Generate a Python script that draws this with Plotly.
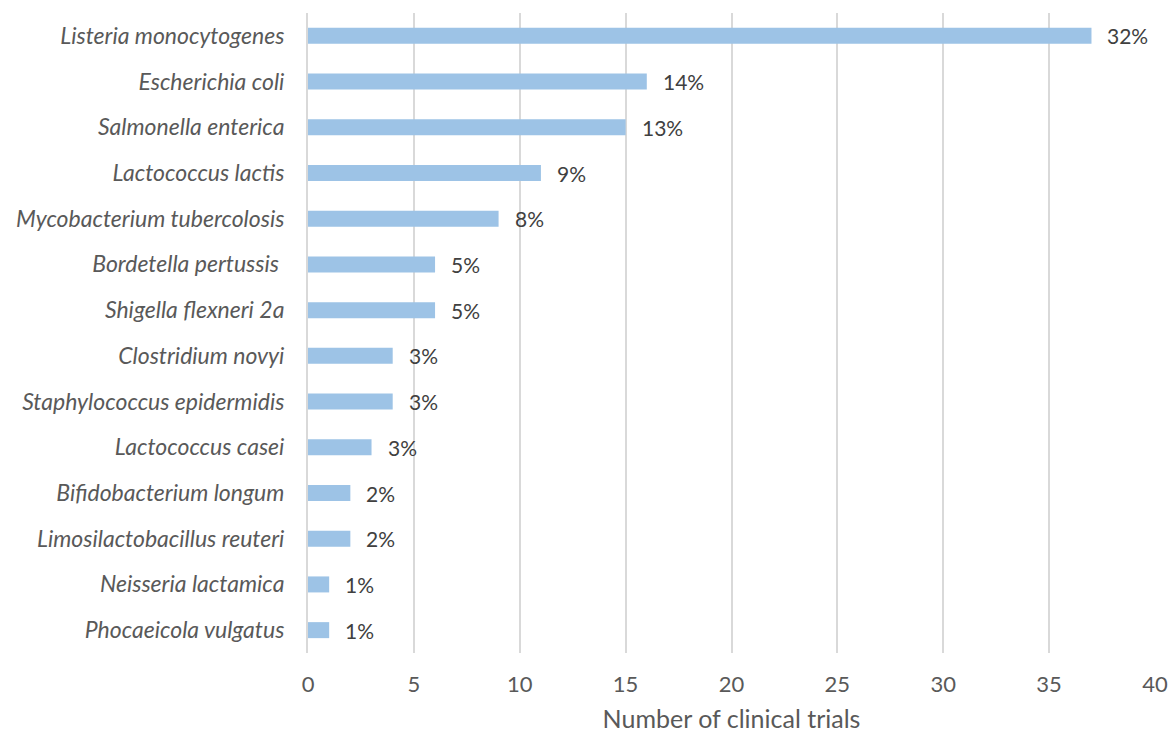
import plotly.graph_objects as go

# Organisms, listed top to bottom
species = [
    "Listeria monocytogenes",
    "Escherichia coli",
    "Salmonella enterica",
    "Lactococcus lactis",
    "Mycobacterium tubercolosis",
    "Bordetella pertussis ",
    "Shigella flexneri 2a",
    "Clostridium novyi",
    "Staphylococcus epidermidis",
    "Lactococcus casei",
    "Bifidobacterium longum",
    "Limosilactobacillus reuteri",
    "Neisseria lactamica",
    "Phocaeicola vulgatus",
]
trials = [37, 16, 15, 11, 9, 6, 6, 4, 4, 3, 2, 2, 1, 1]
share_labels = ["32%", "14%", "13%", "9%", "8%", "5%", "5%", "3%", "3%", "3%",
                "2%", "2%", "1%", "1%"]
x_ticks = [0, 5, 10, 15, 20, 25, 30, 35, 40]

FONT = "Lato"

fig = go.Figure(
    go.Bar(
        x=trials,
        y=species,
        orientation="h",
        marker=dict(color="#9DC3E6", line=dict(width=0)),
        width=0.35,
        hoverinfo="x+y",
    )
)

for name, n, lab in zip(species, trials, share_labels):
    fig.add_annotation(
        x=n, y=name, text=lab, showarrow=False,
        xanchor="left", xshift=14,
        font=dict(family=FONT, size=21, color="#404040"),
    )

fig.update_layout(
    width=1170, height=733,
    margin=dict(l=308, r=15, t=13, b=80),
    paper_bgcolor="white", plot_bgcolor="white",
    showlegend=False,
    bargap=0.65,
)
fig.update_xaxes(
    range=[0, 40], tickvals=x_ticks,
    showgrid=True, gridcolor="#d9d9d9", gridwidth=2,
    zeroline=False, showline=False, automargin=False,
    tickfont=dict(family=FONT, size=22, color="#595959"),
    ticks="", ticklabelstandoff=16,
    title=dict(text="Number of clinical trials",
               font=dict(family=FONT, size=25, color="#595959"),
               standoff=20),
)
fig.update_yaxes(
    categoryorder="array", categoryarray=species, autorange="reversed",
    showline=True, linecolor="#d9d9d9", linewidth=2,
    showgrid=False, ticks="", automargin=False,
    tickfont=dict(family=FONT, size=23, color="#595959", style="italic"),
    ticklabelstandoff=17,
)

fig.write_html("out.html")
